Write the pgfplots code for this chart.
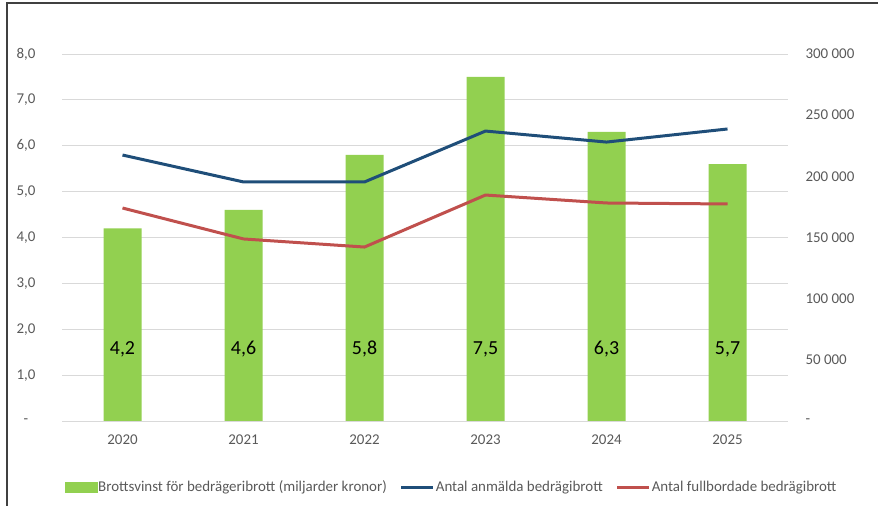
\documentclass[border=0pt]{standalone}
\usepackage{pgfplots}
\usepackage{pgfplotstable}
\pgfplotsset{compat=1.18}
\usepackage{fontspec}
\setmainfont{Carlito}
\definecolor{bargreen}{HTML}{92D050}
\definecolor{lineblue}{HTML}{1F4E79}
\definecolor{linered}{HTML}{C0504D}
\definecolor{gridgray}{HTML}{D9D9D9}
\definecolor{ticktext}{HTML}{595959}
\pgfplotsset{mylineleg/.style={legend image code/.code={\draw[##1] (0bp,0bp) -- (32bp,0bp);}}}

\pgfplotstableread{
x vinst ly label
0 4.2 1.57 {4,2}
1 4.6 1.57 {4,6}
2 5.8 1.57 {5,8}
3 7.5 1.57 {7,5}
4 6.3 1.57 {6,3}
5 5.6 1.57 {5,7}
}\vinsttable

\pgfplotstableread{
x anmalda fullbordade
0 217400 174100
1 195400 148800
2 195400 142200
3 237000 184700
4 228000 178200
5 238700 177400
}\brotttable

\begin{document}
\begin{tikzpicture}[x=1bp,y=1bp]
\useasboundingbox (0,0) rectangle (878,506);
\draw[line width=2bp, color=black!75] (6,503) -- (878,503);
\draw[line width=2bp, color=black!75] (7,0) -- (7,504);
\begin{axis}[
  at={(62bp,85bp)}, anchor=south west,
  width=726bp, height=367bp, scale only axis,
  xmin=-0.5, xmax=5.5, ymin=0, ymax=8,
  xtick={0,...,5}, xticklabels={2020,2021,2022,2023,2024,2025},
  ytick={0,1,...,8},
  yticklabels={{-},{1,0},{2,0},{3,0},{4,0},{5,0},{6,0},{7,0},{8,0}},
  axis line style={draw=none},
  major tick length=0pt,
  ymajorgrids, grid style={gridgray, line width=0.9bp},
  ticklabel style={font=\fontsize{15}{17}\selectfont, text=ticktext},
  yticklabel style={anchor=center, xshift=-36bp},
  xticklabel style={anchor=center, yshift=-19bp},
  clip=false,
]
\addplot[ybar, bar width=38bp, bar shift=0pt, fill=bargreen, draw=none] table[x=x, y=vinst] {\vinsttable};
\addplot[draw=none, mark=none,
  nodes near coords={\pgfplotspointmeta},
  point meta=explicit symbolic,
  nodes near coords style={anchor=center, font=\fontsize{20}{24}\selectfont, text=black}]
  table[x=x, y=ly, meta=label] {\vinsttable};
\end{axis}
\begin{axis}[
  at={(62bp,85bp)}, anchor=south west,
  width=726bp, height=367bp, scale only axis,
  xmin=-0.5, xmax=5.5, ymin=0, ymax=300000,
  axis x line=none,
  axis y line*=right,
  axis line style={draw=none},
  major tick length=0pt,
  scaled y ticks=false,
  ytick={0,50000,100000,150000,200000,250000,300000},
  yticklabels={{-},{50 000},{100 000},{150 000},{200 000},{250 000},{300 000}},
  ticklabel style={font=\fontsize{15}{17}\selectfont, text=ticktext},
  yticklabel style={anchor=west, xshift=14bp},
  legend columns=3,
  legend style={at={(0.536,-0.18)}, anchor=center, draw=none, fill=none,
    font=\fontsize{15}{17}\selectfont, text=ticktext,
    /tikz/every even column/.append style={column sep=12bp},
    inner xsep=0pt, nodes={inner xsep=1bp}},
  legend cell align=left,
]
\addlegendimage{legend image code/.code={\fill[bargreen] (0bp,-5bp) rectangle (32bp,5bp);}}
\addlegendentry{Brottsvinst för bedrägeribrott (miljarder kronor)}
\addplot[lineblue, line width=3bp, mark=none, mylineleg] table[x=x, y=anmalda] {\brotttable};
\addlegendentry{Antal anmälda bedrägibrott}
\addplot[linered, line width=3bp, mark=none, mylineleg] table[x=x, y=fullbordade] {\brotttable};
\addlegendentry{Antal fullbordade bedrägibrott}
\end{axis}
\end{tikzpicture}
\end{document}
